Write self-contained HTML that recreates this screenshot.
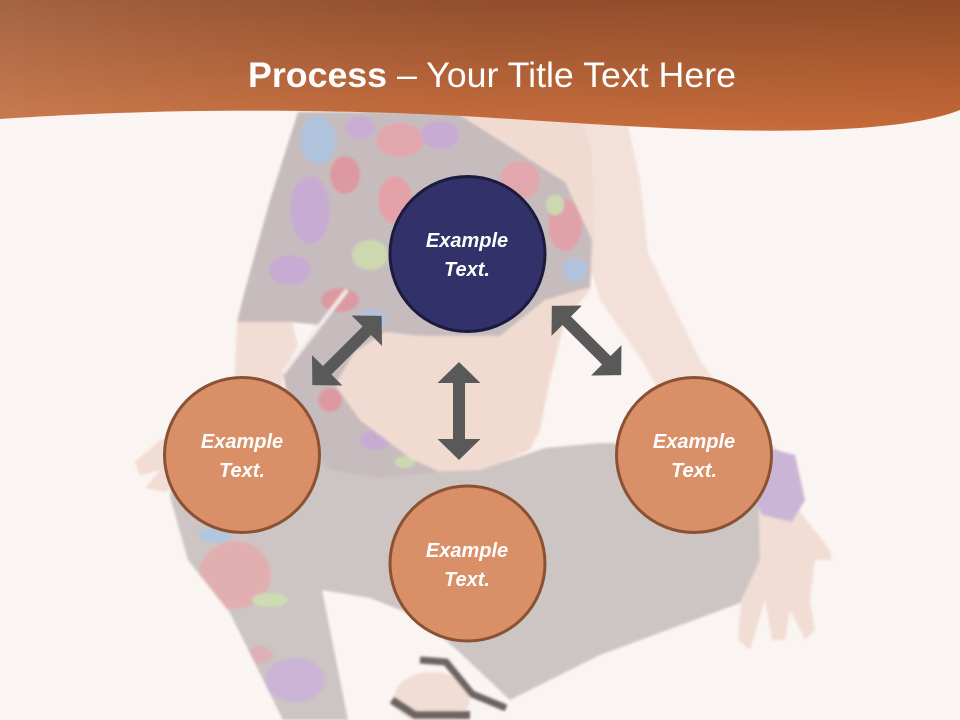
<!DOCTYPE html>
<html>
<head>
<meta charset="utf-8">
<style>
  html,body{margin:0;padding:0;background:#faf5f2;}
  body{width:960px;height:720px;overflow:hidden;}
  svg{display:block;}
</style>
</head>
<body>
<svg width="960" height="720" viewBox="0 0 960 720" xmlns="http://www.w3.org/2000/svg">
  <defs>
    <linearGradient id="hdrV" x1="0" y1="0" x2="0" y2="1">
      <stop offset="0" stop-color="#8c4b2a"/>
      <stop offset="1" stop-color="#c86d3c"/>
    </linearGradient>
    <linearGradient id="hdrH" x1="0" y1="0" x2="1" y2="0">
      <stop offset="0" stop-color="#d8a080" stop-opacity="0.30"/>
      <stop offset="0.5" stop-color="#c87a50" stop-opacity="0.08"/>
      <stop offset="1" stop-color="#b84e18" stop-opacity="0.12"/>
    </linearGradient>
    <clipPath id="floralClip">
      <polygon points="298,112 455,112 565,182 592,240 590,287 545,300 500,336 420,336 385,332 355,352 335,385 360,420 410,458 440,472 380,478 330,470 300,440 288,400 283,373 320,325 290,322 237,322 245,290 270,200"/>
    </clipPath>
    <clipPath id="legClip">
      <polygon points="185,470 300,460 330,520 322,590 348,720 283,720 230,613 188,560 170,497"/>
    </clipPath>
    <filter id="soft" x="-5%" y="-5%" width="110%" height="110%">
      <feGaussianBlur stdDeviation="1.2"/>
    </filter>
  </defs>

  <!-- background -->
  <rect width="960" height="720" fill="#faf5f2"/>

  <!-- faded figure -->
  <g filter="url(#soft)">
    <!-- right arm skin -->
    <polygon fill="#f3e1d9" points="575,112 625,112 640,180 648,253 700,360 740,414 778,450 760,478 720,452 673,414 643,362 600,300 585,250"/>
    <!-- right hand -->
    <polygon fill="#f2ddd5" points="745,495 795,505 830,550 832,560 815,560 810,600 815,630 805,640 790,610 785,640 772,640 765,600 750,650 738,640 742,590 735,560 742,520"/>
    <!-- shoulder + midriff skin -->
    <polygon fill="#f1dbd1" points="455,112 580,112 592,150 595,240 590,290 565,320 550,380 540,430 530,450 490,468 455,474 420,468 380,440 345,410 330,385 355,352 385,332 420,336 500,336 545,300"/>
    <!-- forearm + left hand -->
    <polygon fill="#f2ddd4" points="237,322 292,322 298,345 283,373 282,395 240,420 200,432 160,440 135,462 140,476 160,470 145,488 165,492 195,480 230,485"/>

    <!-- gray legs -->
    <polygon fill="#ccc5c3" points="292,438 420,472 480,470 545,448 600,443 700,443 757,447 760,560 740,603 600,655 510,700 457,650 418,617 370,598 322,590 348,720 283,720 230,613 188,560 170,497 180,445"/>

    <!-- left leg floral patches -->
    <g clip-path="url(#legClip)" opacity="0.8">
      <ellipse cx="235" cy="575" rx="36" ry="34" fill="#e8a9ad"/>
      <ellipse cx="215" cy="535" rx="16" ry="8" fill="#aac6e6"/>
      <ellipse cx="270" cy="600" rx="18" ry="7" fill="#cfe2ae"/>
      <ellipse cx="295" cy="680" rx="30" ry="22" fill="#cbb0da"/>
      <ellipse cx="260" cy="655" rx="13" ry="9" fill="#e3aab4"/>
      <ellipse cx="200" cy="500" rx="16" ry="20" fill="#d8b4cc"/>
    </g>

    <!-- floral top + sleeve -->
    <polygon fill="#c6bcbe" points="298,112 455,112 565,182 592,240 590,287 545,300 500,336 420,336 385,332 355,352 335,385 360,420 410,458 440,472 380,478 330,470 300,440 288,400 283,373 320,325 290,322 237,322 245,290 270,200"/>
    <g clip-path="url(#floralClip)" opacity="0.75">
      <ellipse cx="318" cy="140" rx="18" ry="24" fill="#a9c6e6"/>
      <ellipse cx="360" cy="128" rx="15" ry="12" fill="#c8a8da"/>
      <ellipse cx="400" cy="140" rx="24" ry="17" fill="#eba0a6"/>
      <ellipse cx="440" cy="135" rx="19" ry="14" fill="#c9a6d9"/>
      <ellipse cx="310" cy="210" rx="20" ry="34" fill="#c8a6d8"/>
      <ellipse cx="345" cy="175" rx="15" ry="19" fill="#e58e97"/>
      <ellipse cx="395" cy="200" rx="17" ry="24" fill="#ec9aa1"/>
      <ellipse cx="370" cy="255" rx="18" ry="15" fill="#cfe2ad"/>
      <ellipse cx="290" cy="270" rx="21" ry="15" fill="#c8a6d8"/>
      <ellipse cx="340" cy="300" rx="19" ry="12" fill="#e58e97"/>
      <ellipse cx="520" cy="180" rx="20" ry="19" fill="#eba0a6"/>
      <ellipse cx="565" cy="225" rx="17" ry="26" fill="#e89aa2"/>
      <ellipse cx="575" cy="270" rx="12" ry="12" fill="#aac6e6"/>
      <ellipse cx="555" cy="205" rx="9" ry="10" fill="#cfe2ad"/>
      <ellipse cx="372" cy="320" rx="15" ry="10" fill="#a9c6e6"/>
      <ellipse cx="330" cy="400" rx="12" ry="12" fill="#e58e97"/>
      <ellipse cx="375" cy="440" rx="15" ry="10" fill="#c8a6d8"/>
      <ellipse cx="405" cy="462" rx="10" ry="6" fill="#cfe2ad"/>
    </g>
    <!-- white gap between arm and body -->
    <line x1="347" y1="290" x2="283" y2="373" stroke="#f2ece9" stroke-width="4"/>

    <!-- right wrist cuff -->
    <polygon fill="#cbb5d6" points="757,445 795,455 805,500 792,522 762,515 748,482"/>

    <!-- foot and shoe -->
    <ellipse cx="432" cy="698" rx="38" ry="26" fill="#f2ddd4"/>
    <path d="M420,660 L446,662 L472,694 L506,708" stroke="#6c6464" stroke-width="7" fill="none"/>
    <path d="M392,700 L415,715 L470,715" stroke="#6c6464" stroke-width="8" fill="none"/>
  </g>

  <!-- header wave -->
  <path d="M0,0 H960 V110 C930,122 880,128 820,130 C720,133 620,126 480,117 C380,111 250,109 150,112 C80,114 30,117 0,119 Z" fill="url(#hdrV)"/>
  <path d="M0,0 H960 V110 C930,122 880,128 820,130 C720,133 620,126 480,117 C380,111 250,109 150,112 C80,114 30,117 0,119 Z" fill="url(#hdrH)"/>

  <!-- title -->
  <text x="248" y="87" font-family="'Liberation Sans', Arial, sans-serif" font-size="35" fill="#ffffff" textLength="488" lengthAdjust="spacingAndGlyphs"><tspan font-weight="bold">Process</tspan> – Your Title Text Here</text>

  <!-- arrows -->
  <g fill="#595959">
    <polygon transform="translate(459,411)" points="0,-49 21.5,-28 6,-28 6,28 21.5,28 0,49 -21.5,28 -6,28 -6,-28 -21.5,-28"/>
    <polygon transform="translate(347,350.5) rotate(45)" points="0,-49 21.5,-28 6,-28 6,28 21.5,28 0,49 -21.5,28 -6,28 -6,-28 -21.5,-28"/>
    <polygon transform="translate(586.5,340.5) rotate(-45)" points="0,-49 21.5,-28 6,-28 6,28 21.5,28 0,49 -21.5,28 -6,28 -6,-28 -21.5,-28"/>
  </g>

  <!-- circles -->
  <circle cx="467.5" cy="254" r="77.5" fill="#32316a" stroke="#1b1b3e" stroke-width="3"/>
  <circle cx="242" cy="455" r="77.5" fill="#d98f68" stroke="#8a5233" stroke-width="3"/>
  <circle cx="694" cy="455" r="77.5" fill="#d98f68" stroke="#8a5233" stroke-width="3"/>
  <circle cx="467.5" cy="563.5" r="77.5" fill="#d98f68" stroke="#8a5233" stroke-width="3"/>

  <!-- circle labels -->
  <g font-family="'Liberation Sans', Arial, sans-serif" font-size="20" font-weight="bold" font-style="italic" fill="#ffffff" text-anchor="middle">
    <text x="467" y="247">Example</text>
    <text x="467" y="276">Text.</text>
    <text x="242" y="448">Example</text>
    <text x="242" y="477">Text.</text>
    <text x="694" y="448">Example</text>
    <text x="694" y="477">Text.</text>
    <text x="467" y="557">Example</text>
    <text x="467" y="586">Text.</text>
  </g>
</svg>
</body>
</html>
